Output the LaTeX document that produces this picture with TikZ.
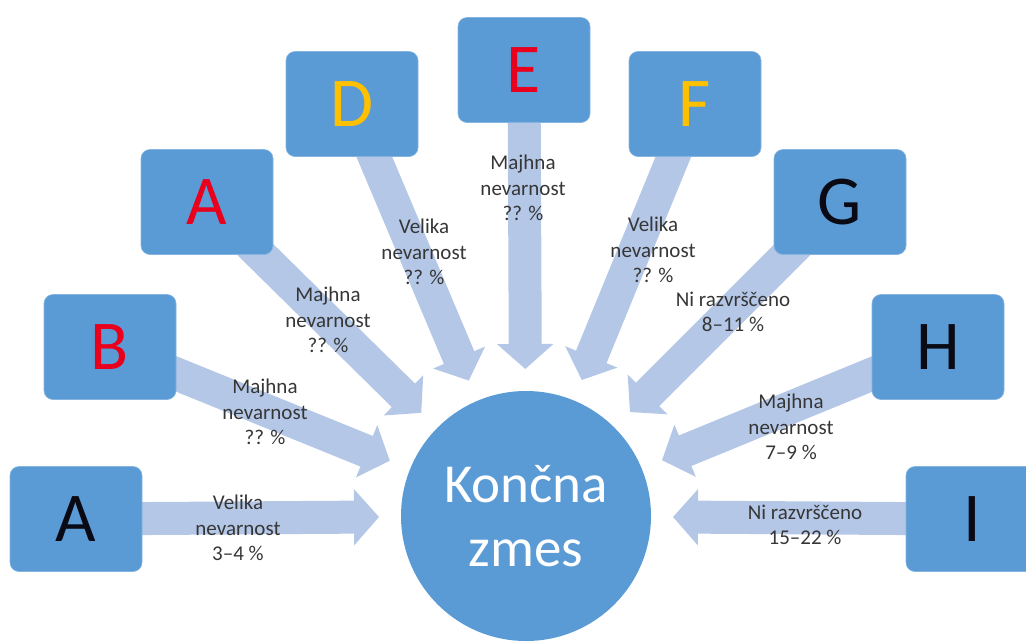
\documentclass[tikz,border=0pt]{standalone}
\usepackage{fontspec}
\setmainfont{Carlito}
\usetikzlibrary{arrows.meta,backgrounds}
\definecolor{boxblue}{HTML}{5B9BD5}
\definecolor{flowblue}{HTML}{B4C7E7}
\definecolor{labelgray}{HTML}{363636}
\definecolor{letterred}{HTML}{E8001C}
\definecolor{lettergold}{HTML}{FFC000}
\definecolor{letterdark}{HTML}{0A0A14}

\begin{document}
\begin{tikzpicture}[x=1pt,y=-1pt,
  source/.style={fill=boxblue, draw=boxblue!75!white, line width=0.6pt,
    rounded corners=9pt, minimum width=132pt, minimum height=105pt,
    inner sep=0pt, font=\fontsize{70}{70}\selectfont},
  flow/.style={draw=flowblue, line width=33pt,
    -{Triangle[width=55pt,length=25pt]}, shorten >=22pt},
  note/.style={text=labelgray, align=center, inner sep=0pt,
    font=\fontsize{21}{25.5}\selectfont}]
\useasboundingbox (0,0) rectangle (1026,641);

% central mixture
\node[circle, fill=boxblue, minimum size=250pt, inner sep=0pt, outer sep=0pt,
  text=white, align=center, font=\fontsize{55}{64}\selectfont]
  (mix) at (526,516) {Končna\\zmes};

% source components
\node[source, text=letterdark] (sa) at (76,519)  {A};
\node[source, text=letterred]  (sb) at (110,347) {B};
\node[source, text=letterred]  (sc) at (207,202) {A};
\node[source, text=lettergold] (sd) at (352,104) {D};
\node[source, text=letterred]  (se) at (524,70)  {E};
\node[source, text=lettergold] (sf) at (695,104) {F};
\node[source, text=letterdark] (sg) at (840,202) {G};
\node[source, text=letterdark] (sh) at (938,347) {H};
\node[source, text=letterdark] (si) at (972,519) {I};

% flows into the mixture, behind the boxes
\begin{pgfonlayer}{background}
  \foreach \s in {sa,sb,sc,sd,se,sf,sg,sh,si}
    \draw[flow] (\s.center) -- (mix);
\end{pgfonlayer}

% hazard classes and shares
\node[note] (na) at (238,528) {Velika\\nevarnost\\3–4 \%};
\node[note] (nb) at (265,412) {Majhna\\nevarnost\\?? \%};
\node[note] (nc) at (328,320) {Majhna\\nevarnost\\?? \%};
\node[note] (nd) at (424,252) {Velika\\nevarnost\\?? \%};
\node[note] (ne) at (523,188) {Majhna\\nevarnost\\?? \%};
\node[note] (nf) at (653,250) {Velika\\nevarnost\\?? \%};
\node[note] (ng) at (733,312) {Ni razvrščeno\\8–11 \%};
\node[note] (nh) at (791,427) {Majhna\\nevarnost\\7–9 \%};
\node[note] (ni) at (805,525) {Ni razvrščeno\\15–22 \%};
\end{tikzpicture}
\end{document}
